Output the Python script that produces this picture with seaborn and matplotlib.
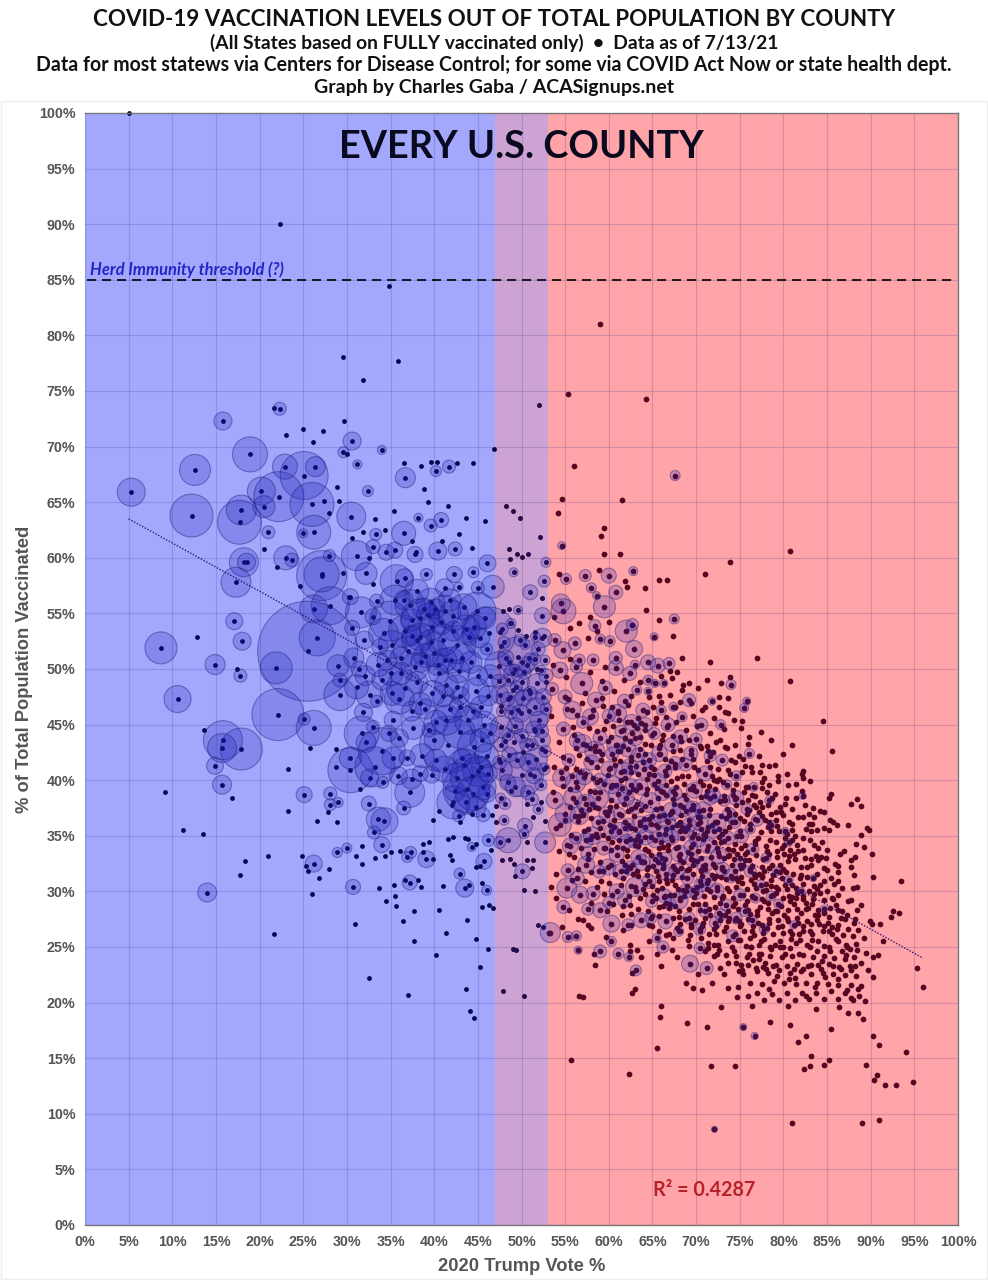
import matplotlib
matplotlib.use('Agg')
import matplotlib.pyplot as plt
from matplotlib.patches import Rectangle
import seaborn as sns
import pandas as pd
import numpy as np

# Every U.S. county: 2020 Trump vote % vs. % fully vaccinated
# bubbles are (vote, vaccinated, bubble diameter scale of the county population)
blue_big = [
    (5.3,65.9,28),(15.8,72.3,18),(12.6,67.9,31),(18.9,69.3,35),(12.2,63.8,43),(22.3,73.4,13),(22.9,68.2,25),
    (25.1,67.4,48),(26.4,68.2,20),(20.2,66,28),(22.2,65.5,50),(17.9,64.3,30),(17.7,63.2,44),(20.5,64.6,22),
    (26,64.8,44),(30.6,70.5,18),(29.6,69.5,11),(30.5,63.7,29),(26.2,62.3,34),(25,62.2,9),(21,62.3,13),
    (18.2,59.6,29),(18.5,59.6,18),(17.3,57.8,30),(23,60,24),(23.7,59.8,14),(27.1,58.4,50),(27.1,58.5,35),
    (31.1,60.2,30),(28,60.2,12),(26.2,55.4,28),(28.1,55.7,38),(31.6,55.1,31),(26.6,52.8,36),(25.5,51.6,100),
    (21.9,50.1,32),(22.1,45.9,52),(26.2,44.7,35),(25.1,45.5,12),(10.6,47.3,27),(14.9,50.4,20),(17.8,49.4,13),
    (15.8,43.6,39),(15.7,42.9,29),(17.9,42.8,42),(14.9,41.3,17),(15.7,39.6,19),(14,29.9,19),(25.1,38.7,16),
    (28.1,38.8,13),(28.1,37.8,12),(29,38,10),(32.5,37.9,15),(33.1,35.3,13),(33.6,36.5,24),(26.2,32.5,17),
    (30.7,30.4,15),(28.9,33.5,10),(30,33.9,10),(30.4,40.9,45),(30.4,42,22),(31.7,44.2,35),(33.2,41.2,40),
    (29.2,47.7,32),(29,50.3,22),(29.2,49,14),(8.7,51.9,32),(17.1,54.3,17),(18,52.5,18),(30.6,53.7,15),
    (36.7,67.2,20),(41.7,68.2,13),(40.2,67.8,11),(32.4,66,11),(34,69.7,9),(31.2,68.4,9),
]
blue_mid = [
    (36.5,62.2,24),(40.8,63.4,15),(39.6,62.9,13),(38.2,63.6,9),(46.1,59.5,17),(39.1,58.5,12),(42.3,58.5,16),
    (44.5,58.7,11),(45,57.3,13),(46.7,57.4,23),(41.2,57.3,18),(42.8,57.4,9),(35.7,57.9,33),(35.5,56.2,30),
    (36.5,56.2,19),(41.2,55.2,32),(39.3,54.9,23),(34.9,54.3,40),(34.2,53.2,30),(44.9,55.2,38),(46.3,53.2,53),
    (38.4,52.9,28),(44,52.9,17),(45.2,52.8,20),(46,51.8,12),(34.6,50.8,20),(36.6,48.3,36),(38.5,50.6,20),
    (40.5,49.6,20),(42.8,49.8,23),(44.8,48,27),(41.4,48.6,23),(39,46.4,20),(41.8,46.4,27),(45.7,45,27),
    (32.6,47.7,27),(36,47.3,30),(38,48.8,22),(40,51.4,27),(42.2,53.4,20),(37,51.6,30),(35,49.6,24),
    (33.8,52,16),(37.4,54.4,22),(39.6,52.4,25),(41.2,50.8,24),(43,47.6,18),(39.4,44.5,14),(44.4,46.2,16),
    (41.6,43.2,57),(43.7,39.2,47),(42.2,38,33),(44.3,40.4,43),(45.4,41.2,20),(37.2,38.9,30),(37.6,44.7,23),
    (34,42.6,47),(35.3,42,22),(34.3,36.3,27),(34,34.2,16),(37.4,40.1,20),(39.7,40.5,17),(43.2,42,18),
    (40,43.6,20),(45.5,43.6,24),(46,38.8,18),(42.8,36.8,12),(36.9,33.1,11),(37.3,33.5,12),(39.1,32.9,17),
    (46.2,34.6,12),(42.9,31.6,11),(45.7,32.7,16),(37.2,30.8,15),(43.5,30.3,18),(46,30.1,10),(44.3,34,9),
    (34.1,39.8,12),(36.5,37.5,14),(38.6,42.2,24),(35.3,45.4,18),(33,44.8,13),(32.1,49.4,20),(33.4,47.1,12),
    (32,52.6,18),(31.1,48.4,24),(33,54.7,16),(32.2,58.6,22),(33.4,56.1,14),(34.5,60.5,16),(33.3,62.1,12),
]
blue_core = [
    (38.4,54.6,38),(37.2,55.8,30),(39.6,56,28),(36.6,53.4,32),(38,52.6,30),(39.8,53.8,26),(41,52.6,32),
    (42.6,52.2,38),(43.6,53.6,28),(42.2,54.8,30),(40.8,54.2,24),(43.2,51,28),(41.9,50.8,26),(38,57,24),
    (36.6,58.2,18),(39,51.2,24),(37.8,50.2,28),(40.4,50.4,22),(36.2,51,22),(35.2,52.2,28),(37.4,53,20),
    (38.8,55.4,22),(40.1,55.4,20),(41.8,56.2,22),(43.4,55.6,26),(44.6,53.8,24),(45.8,54.6,22),(44.2,50.6,22),
    (42.6,48.4,24),(41,47.6,22),(39.8,47.8,26),(38.4,46.9,22),(37.4,46.2,20),(35.2,47.8,24),(34,49,20),
    (33.6,50.4,24),(36.2,49.6,22),(43.9,45.4,28),(42.9,44.3,32),(44.6,43,34),(43.4,41.4,32),(45,40.8,30),
    (42.6,40.2,30),(44.4,38.8,34),(45.6,39.4,26),(41.2,41,26),(40.2,41.8,22),(46,42.2,24),(46.4,44.2,20),
    (41.4,45.4,30),(40.2,45.2,24),(42.9,46.6,20),(45.4,46.6,22),(46.2,47.6,20),(46.4,49.4,22),(45,49.4,20),
    (43.6,38,24),(42.4,39,20),(46.2,40.6,18),(44.8,37.6,20),(45.6,36.9,14),(38.4,40.6,16),(36,43.8,18),
    (36.9,42,16),(34.8,44.2,16),(32.2,43.4,20),(32.6,40.2,18),(35.9,40.4,18),(31.9,46.1,18),(30.8,51,20),
    (31.4,50,16),(30.4,56.5,16),(33,61,14),(35.5,60.7,16),(37.8,60.3,16),(40.4,60.6,18),(42.4,60.8,14),
]
mid_big = [
    (49.6,51.1,40),(47.4,50.3,28),(52.4,52.8,19),(50.9,46.2,43),(50,40.5,44),(47.8,40.9,20),(48.7,47.5,28),
    (47.7,44.8,22),(49.1,43.4,24),(51.7,41.9,22),(47.5,47.7,18),(48.8,54.1,10),(49.6,55.3,9),(52.4,54.8,16),
    (51,56.9,15),(49.1,58.7,9),(48.5,34.6,25),(47.5,34.4,12),(50.4,35.9,15),(48,36.4,10),(50.1,31.8,15),
    (52.7,34.4,21),(53.3,26.3,20),(50.3,35.2,10),(51.8,48.7,20),(50.3,49.7,14),(48.4,49,12),(52,45.4,18),
    (49.3,44.9,16),(50.6,43.2,14),(48.6,42.3,15),(52.2,39.6,12),(51.2,38.3,13),(47.6,38.4,10),(51.5,50.9,12),
    (52.7,50.8,10),(49.8,52.6,12),(51.6,52.9,10),(50.4,52.2,10),(48.8,46.1,13),(50.2,47.4,16),(52.5,47.5,16),
    (48,52.4,12),(47.4,48.9,14),(49.4,48.4,12),(51,47.8,14),(52.8,46.4,12),(51.4,44.6,16),(50,44,14),
    (47.6,43.2,14),(48.4,44.1,12),(52.4,43.6,16),(51.2,43.2,12),(49.5,41.8,16),(48.4,39.8,16),(51.4,40.4,16),
    (52.6,41,12),(47.7,46.2,10),(49.2,50,10),(50.9,51,10),(52.2,49.9,10),(52.6,57.9,12),(52.8,59.6,10),
    (48.2,51,16),(49,49.6,18),(50.6,50.4,16),(51.9,51.8,14),(52.8,49.4,14),(47.8,53.6,12),(50,48.8,16),
    (51.6,46.6,18),(49.9,46,18),(48.4,47.3,14),(52.3,44.4,14),(47.5,41.6,14),(50.8,41.6,18),(49.3,39.4,20),
    (48.1,37.9,12),(52.7,42.6,12),(50.7,38.9,14),(51.9,37.4,10),
]
red_big = [
    (54.6,61.1,8),(62.8,58.8,9),(57.3,58.4,12),(60,58.4,15),(55.1,58.1,11),(58,57.3,10),(60.8,56.9,14),
    (58.6,56.6,8),(59.5,55.6,22),(54.8,55.2,25),(54.5,55.9,19),(67.5,54.5,10),(58.4,53.9,12),(62,53.4,22),
    (62.7,54,12),(65.2,52.9,8),(59,52.7,10),(60.1,52.5,11),(62.9,51.8,17),(54.7,51.7,17),(56.1,52.3,13),
    (53.8,52.6,13),(56.6,50.8,12),(60.8,51,13),(64.5,50.6,15),(65.6,50.3,15),(66.9,50.5,12),(63,50.4,9),
    (56.9,48.7,22),(58.2,50.8,12),(56.3,50.2,12),(62.4,49.6,14),(60.8,50.1,15),(74,48.6,10),(69.2,47.2,13),
    (71.8,47.1,8),(75.8,47.1,8),(75.5,46.5,9),(64.5,49,10),(65.3,48.7,8),(66.3,48.7,8),(64.5,48,8),
    (70.6,45,13),(72.8,45,10),(76.1,42.4,10),(70,43.7,12),(68.4,45.7,10),(66,46.3,10),(63.9,46.3,14),
    (61.8,47.1,14),(67.6,67.4,10),(53.5,48.2,13),(55,47.5,14),(58.5,47.2,16),(60,45.8,13),(57,45.2,12),
    (54.8,44.6,14),(56.4,43.6,16),(59,43.8,14),(61.4,44.4,12),(63,43.8,16),(65.2,44.2,12),(67.2,43.2,14),
    (60.4,42.4,13),(58,41.6,15),(55.4,41.8,13),(62.4,41.2,16),(64.6,41.8,15),(66.4,40.8,14),(68.8,41.4,13),
    (71,40.6,15),(73,41.8,12),(53.8,38.2,17),(54.4,36,23),(57.4,37.9,19),(55.9,38.4,19),(61.1,38.8,20),
    (64.7,38,20),(68.5,37.6,20),(63.6,36,17),(65.3,34.6,15),(68.1,33.4,17),(70.8,37.3,17),(60.3,35.4,15),
    (57.4,34.6,15),(55.3,31.9,13),(57.4,32.4,17),(60.9,33.3,15),(63.4,33.1,15),(63,30.4,19),(60.9,30,15),
    (55.2,30.3,20),(56.7,29.7,17),(54.8,28.6,13),(59,28.3,15),(60.3,27.1,17),(63.7,27.4,15),(66.5,27.3,15),
    (68.1,29.2,17),(64.9,29.1,12),(69.3,23.5,17),(61.1,24.4,11),(59,24.6,13),(66.2,25,12),(70.4,24.9,11),
    (71.2,23.1,13),(55.3,25.9,11),(56.3,26,10),(56.5,24.7,8),(60.3,25.5,10),(62.3,24.1,9),(63.1,22.9,11),
    (65.5,25.8,9),(72.4,36.2,18),(74.6,38.4,15),(70.2,34.8,18),(72.6,33.2,16),(75.2,35,14),(77,36.4,12),
    (74,31.4,14),(71.4,31,15),(69,31.2,13),(66.6,31.6,14),(78,33,10),(76.2,31.8,12),(73.4,28.8,12),
    (75.6,28.2,10),(71,28.2,12),(78.6,29.6,10),(80.6,31,9),(77.8,26.6,10),(74.2,26,12),(81.2,27,8),
    (59,40,14),(61.2,37,12),(66.8,36.2,15),(58.8,36.2,13),(56.2,34.8,12),(62.6,39.6,12),(75.4,17.8,7),
    (76.7,17,7),(72.1,8.6,6),(78.4,38.2,9),(82.2,38.6,7),(80.6,34.4,8),(83.4,31.2,7),(84.6,28.4,7),
    (61.7,40.8,18),(63.4,42.3,14),(60,41,16),(57.2,40.3,16),(65.6,39.9,16),(67.6,38.8,14),(69.8,39.1,16),
    (72,38.6,14),(73.8,36.9,14),(63,37.6,15),(65.8,36.8,14),(62,34.5,14),(64.2,34.9,16),(67.1,34.9,16),
    (69.2,36,14),(71.4,34.1,16),(73.6,34.8,14),(76.5,33.8,12),(66.4,32.9,14),(69.6,32.8,14),(62.4,32.1,14),
    (58.9,31.8,13),(59.4,33.9,14),(64.6,30.9,14),(72.4,30.1,14),(70,29.9,14),(75,29.7,12),(67,28.9,12),
    (69.2,27.6,12),(72.2,27.2,12),(76.8,29.4,10),(79.2,31.8,9),(73.5,39.6,10),(75.8,37.4,11),(62.2,36,13),
]
red_big_2 = [
    (54.4,49.9,16),(55.8,46.3,18),(57.9,45.7,16),(59.6,48.3,14),(61,46,18),(62.6,45.2,16),(64.2,45,14),
    (66.8,45,14),(68.2,43.9,14),(57,43.3,18),(58.4,42.6,20),(60.8,43.2,18),(62.2,42.8,16),(64,41,18),
    (65.8,42.4,16),(67.6,41.5,14),(69.4,42.4,14),(71.6,42.2,12),(54.6,40.2,18),(56.2,39.8,20),(58.8,38.4,20),
    (60.4,39.6,18),(62,38.4,16),(63.6,39.4,16),(66.2,38.9,16),(67.2,37.2,18),(69.6,37.4,16),(71.6,38.4,14),
    (73.2,38.2,12),(55,37,20),(56.6,36.8,18),(58.1,35,18),(59.8,36.9,16),(61.2,35.4,18),(63,34.6,16),
    (64.8,36.1,18),(66.4,35.2,16),(68.2,35.4,18),(70.4,36.2,16),(72,35.4,14),(74.4,36.2,12),(76.2,35.6,10),
    (55.6,34.1,16),(57.6,33.4,14),(59.9,32.2,16),(61.4,31.8,16),(63.8,32.6,16),(65.6,32.6,16),(67.8,31.8,16),
    (69.4,34,14),(71,32.4,16),(73,32,14),(75,32.4,12),(77.4,30.6,10),(56.4,31.2,14),(58.2,29.8,14),
    (60,29,12),(61.8,29.2,14),(64.8,27.6,12),(66.4,29.6,14),(68.8,30,14),(70.6,30.6,14),(72.8,27.9,12),
    (74.6,27.6,12),(76.4,27.4,10),(57.6,28.4,12),(62.2,27,12),(68,26.4,10),(70.4,26.6,12),(79.4,28.9,9),
    (82,30,8),(78.6,36,9),(80.2,35.4,8),(74.6,40.4,10),(76.6,39.4,9),(67.4,46.6,9),(63.2,48.1,10),
]

# dots only, the bubble is too small to matter
blue_dots = [
    (5,100),(22.3,90),(34.8,84.4),(29.6,78.1),(35.9,77.7),(31.8,76),(21.6,73.5),(29.7,72.3),(23,71),(25,71.6),
    (46.8,69.8),(44.5,68.5),(42.6,68.5),(39.6,68.6),(40.3,68.6),(38.5,68.3),(36.5,68.5),(30,69.3),(12.8,52.9),
    (9.2,38.95),(11.2,35.5),(13.5,35.2),(13.6,44.5),(16.8,38.4),(18.3,32.7),(17.7,31.5),(21,33.2),(23.2,41),
    (23.2,37.2),(21.7,26.2),(25.8,42.9),(28.7,42.8),(24.8,33.2),(25.3,32.3),(25.5,31.8),(26.8,31.2),(27.9,32),
    (26,29.8),(26.6,36.3),(27.8,37.1),(28.9,36.2),(31,33.2),(31.7,34.1),(31.7,32.5),(30.9,27.1),(28.7,41.2),
    (31.5,39.2),(17.4,50),(38.7,34.3),(39.4,34.4),(38.7,33.5),(41.8,33.3),(42,32.8),(41.6,34.7),(42.1,34.9),
    (43.5,34.8),(43.9,34.7),(44.8,34.3),(46.5,33.7),(36.1,33.6),(39.9,32.9),(44.8,32.2),(45.2,32.3),(38.2,31),
    (38.5,30.4),(41,30.5),(44,30.6),(45.5,30.8),(34.5,29.1),(35.5,29.6),(35.6,28.7),(37.7,28.2),(40.6,28.3),
    (36.4,27.3),(43.7,27.4),(45.5,28.6),(46.3,28.8),(46.7,28.5),(41.3,26.3),(37.7,25.5),(44.8,25.7),(46.2,24.8),
    (40.2,24.3),(45.2,23.2),(32.5,22.2),(37,20.7),(43.6,21.2),(44.1,19.2),(44.6,18.6),(33.2,33),(34.4,33.2),
    (35,33.5),(36.6,31),(33.7,30.3),(35.4,30.6),(44.3,37),(43,36.2),(39.9,36.4),(42,37.8),(40.5,37.2),(46.6,36.9),
    (38.8,66.2),(39.3,65),(41.6,64.7),(42.8,62.1),(40.9,61.5),(43.6,63.6),(44.3,60.9),(45.8,63.3),(37.4,61.5),
    (37.9,60.5),(35.4,64.2),(34.4,62.5),(33.2,63.5),(31.8,62.3),(30.6,61.8),(27.4,65.1),(28.9,66.4),(27.3,71.4),
    (26.1,70.4),(29.1,65.1),(28,64),(29.5,58.6),(24.6,57.5),(22,59.2),(20.5,60.8),(30.2,56.5),(32.5,60),(33,57.6),
]
mid_dots = [
    (47.1,37.7),(47.1,36.2),(52.7,36.3),(51.3,36.7),(50.6,34.4),(47.8,32.8),(48.7,32.9),(49.1,32.5),(50.6,32.8),
    (51.3,32.8),(49.2,31.4),(51.2,32.1),(50.3,30.1),(51.5,30),(51.9,27),(52.5,26.8),(49,24.8),(48.7,59.9),(48.6,55.4),
    (48.7,54.1),(52.4,56.4),(52,73.7),(47.9,21),(49.4,24.7),(50.3,20.6),(48.6,60.8),(49.5,60.3),(50,60.1),(50.7,60.3),
    (48.2,64.7),(49,64.2),(49.8,63.6),(52.1,61.9),(51.6,53.3),(50.5,53),(49.6,53.5),(52.6,53),(47.6,52.1),(47.9,55.2),
    (47.5,53.3),(48.6,50.6),(50,50.6),(51.8,50),(52.8,48.8),(49,48.1),(50.9,48.1),(47.6,46.7),(49.6,46.3),(51.6,44.4),
    (48.1,43.5),(50.2,42.5),(52.4,42.8),(47.4,41.9),(51,40.6),(52.8,41.2),(48.8,39),(50.6,37.9),(52.2,38),
]
red_upper = [
    (59,81),(64.3,74.3),(55.3,74.7),(56,68.3),(61.5,65.2),(54.6,65.3),(54.2,64),(59.4,62.7),(59.1,62),(80.7,60.6),
    (59.5,60.3),(61.3,60.3),(73.9,59.6),(71,58.5),(58.9,58.9),(54.3,58.5),(61.9,57.9),(62.1,57.4),(65.8,58),(66.7,58),
    (64.1,57.3),(64.3,55.3),(65.8,54.4),(57.8,54.7),(60,54.2),(53.7,54.7),(55.5,53.7),(56.6,54.1),(58.7,53.4),(67.3,53),
    (57.6,52.8),(68.4,51),(71.6,50.6),(77,51),(80.8,48.9),(73.9,49.3),(71.2,49),(72.8,48.7),(69.2,48.7),(68.5,48.6),
    (70.2,48.3),(68.4,48.1),(72.6,47.5),(72.6,46.6),(73.3,46.1),(73.7,46),(70.7,46.3),(67,49.8),(67.8,49.7),(67.2,49.2),
    (64.6,47.5),(65.8,47.6),(67,47.7),(66,47),(75.3,45.3),(75.1,44.7),(76.1,43.9),(76,43.3),(74.4,43.2),(73.5,42.9),
    (71.6,44.2),(84.5,45.3),(85.6,42.6),(81,43.2),(79,41.4),(77.6,41.4),(79.4,40.4),(80.4,40.6),(82.1,40.6),(82.3,40.8),
    (82.2,40.2),(83,39.9),(81.5,39.7),(82.1,39),(85.5,38.8),(85.2,38.4),(88.4,38.3),(87.7,37.9),(88.9,37.7),(83.4,37.5),
    (84.2,37.2),(84.6,37.1),(82.9,37),(83.5,36.7),(85.3,36.4),(85.7,36.2),(86.1,36),(82.9,36.1),(83.3,36.1),(87.4,36),
    (89.6,35.7),(89.8,35.5),(83.2,35.4),(83.9,35.5),(84.6,35.7),(85.2,35.5),(88.9,35.1),(82.3,36.7),(81,36.1),(81,35.5),
    (82.3,34.8),(83,34.6),(81,34.6),(88.3,34.3),(89.2,34),(85,33.7),(84,33.9),(86.5,33.4),(86.9,33.6),(90.1,33.4),
    (84.9,33),(88.2,33.1),(85.9,32.5),(86.3,32.3),(87.7,32.8),(87.7,32.2),(86.3,31.7),(88.1,31.5),(90.3,31.3),(93.5,30.9),
    (88,30.3),(88.4,30.4),(87.8,29.2),(87.4,29.1),(88.9,28.8),(88.4,28.3),(88.2,27.5),(93.2,28.1),(92.6,28.2),(92.3,27.7),
    (90.1,27.1),(91.1,27.1),(89.9,27.3),(91.4,25.5),(90.8,24.3),(90.3,24.1),(89.5,24.5),(88.9,23.6),(89.7,22.9),(90.3,22.3),
    (95.3,23.1),(96,21.4),(94,15.6),(94.8,12.9),(92.9,12.6),(91.6,12.6),(90.7,13.5),(90.4,13),(89.5,14.4),(90.3,17),
    (90.9,16.2),(91,9.4),(89,9.2),(81,9.2),(62.3,13.6),(55.7,14.8),(65.5,15.9),(71.7,14.3),(74.5,14.3),(82.4,14),(83,14.3),
    (84.6,14.4),(85.2,14.8),(83.2,15.2),(81.7,16.5),(82.6,17),(80.7,18),(85.4,17.6),(87.4,19.1),(88.5,19.1),(89.1,18.5),
    (86.4,19.6),(83.7,19.4),(80.5,19.7),(78.5,18.3),(76.4,19.7),(74.7,20.5),(72.8,19.6),(71.2,17.8),(69,18.2),(66,19.7),
    (65.9,18.7),(68.8,21.8),(69.6,21.3),(70.7,21.1),(63,21.2),(62.7,20.9),(56.6,20.6),(57.1,20.5),
]
red_45 = [
    (53.4,45.8),(54.3,43.4),(55.2,46.4),(56,44.1),(56.9,46.9),(57.4,43.2),(58.1,45.8),(58.7,44.4),(59.3,46.7),(59.9,43.5),
    (60.5,44.9),(61.1,46.2),(61.6,43.1),(62.1,45.2),(62.7,44.2),(63.4,45.6),(63.6,42.8),(64.2,44.5),(64.8,43.2),(65.4,45.6),
    (66.1,43.6),(66.7,44.8),(67.3,42.6),(67.7,45.2),(68.3,43.5),(68.9,44.5),(69.4,42.7),(70.1,44.9),(70.6,42.9),(71.3,43.1),
    (71.9,42.5),(72.7,43.6),(73.2,44.6),(74,41.8),(74.9,42.2),(75.6,41.3),(76.4,40.7),(77.2,42.2),(77.8,40.2),(78.4,39.6),
    (53.7,41.2),(54.8,42.1),(55.8,40.4),(56.6,42.3),(57.3,40.6),(57.9,42.9),(58.6,41.2),(59.2,42.4),(59.9,40.5),(60.7,41.4),
    (61.3,42.6),(61.9,40.2),(62.6,42.1),(63.3,40.6),(63.9,41.6),(64.4,40.1),(65.2,41),(65.9,42.4),(66.5,40.5),(67.1,41.7),
    (67.8,40.2),(68.4,41.9),(69.1,40.4),(69.8,41.2),(70.4,39.9),(71.2,41.7),(71.8,40.4),(72.5,41),(73.1,39.8),(73.9,40.6),
    (74.6,39.7),(75.3,40.7),(76,39.4),(76.7,38.6),(77.5,39.3),(78.2,37.8),(79,38.8),(79.6,37.6),(80.3,38.4),(81,37.4),
    (68.2,47),(69.6,45.8),(71,46.6),(72,45.6),(74.3,45.4),(77.4,44.3),(78.6,43.6),(80,42.4),(73.6,47.4),(62.6,47.6),
    (60.6,48),(59.2,48.9),(57.8,49.7),(55.1,49.3),(53.6,50.4),(55.6,50.9),(59.6,50.2),(61.7,49),(63.6,48.8),(66,49.4),
]
red_40 = [
    (53.6,38.9),(54.7,39.5),(55.5,37.6),(56.4,39.4),(57,36.9),(57.8,39),(58.4,37.6),(59,38.9),(59.6,37.1),(60.2,38.2),
    (60.8,39.6),(61.4,36.9),(62,38.4),(62.5,37.4),(63.1,39.1),(63.7,37.3),(64.3,38.8),(64.9,36.8),(65.5,39.3),(66,37.5),
    (66.6,38.7),(67.2,37.1),(67.7,39.4),(68.3,36.9),(68.9,38.3),(69.4,37.4),(70,39),(70.5,36.7),(71.1,38.6),(71.6,37.4),
    (72.2,39.2),(72.8,36.8),(73.3,38.2),(73.8,37.1),(74.4,37),(75,36.6),(75.5,38.9),(76.1,37.3),(76.7,36.5),(77.3,38),
    (77.9,36.4),(78.6,37),(79.3,35.9),(80,36.9),(80.4,35.2),(54,35.7),(55,36.4),(55.7,35.1),(56.5,36.3),(57.2,35.4),
    (58,36.6),(58.7,34.9),(59.3,36.3),(59.9,34.8),(60.6,36.4),(61.2,35.3),(61.8,36.2),(62.4,34.7),(63,35.6),(63.6,34.5),
    (64.2,35.8),(64.8,34.9),(65.4,36),(66,34.4),(66.6,35.6),(67.2,34.6),(67.8,36),(68.4,34.8),(69,35.7),(69.6,34.3),
    (70.2,36.1),(70.8,34.7),(71.4,35.8),(72,34.4),(72.6,35.6),(73.2,34.5),(73.8,35.8),(74.4,34.3),(75,35.4),(75.6,34.2),
    (76.2,35.6),(76.8,34.5),(77.4,35.3),(78,34.1),(78.6,35.4),(79.2,34.4),(79.8,33.9),(80.2,34.8),(81.7,33.6),(82.5,33),
    (65.2,39.7),(67.1,39.9),(69.6,39.5),(72.1,40),(58.2,40.2),(56.2,41),(54.5,40.7),(61.4,40.7),(74.5,38.3),(76.9,37.6),
    (57.6,35.6),(60.1,37.6),(62.9,36.8),(65.8,35.2),(68.1,37.8),(70.9,35.2),(73.4,36.6),(75.8,37),(78.2,35.8),(71.5,39.5),
    (83.2,32.4),(84,32.8),(82,32.2),(81.3,32.9),(80.6,33.2),(83.8,31.6),(85,31.9),(84.6,30.9),(85.8,30.7),(86.7,30.3),
]
red_30 = [
    (54.3,33.6),(55.2,34.2),(56,33.1),(56.8,33.9),(57.6,32.9),(58.3,33.8),(59,32.6),(59.6,33.9),(60.3,32.4),(60.9,34),
    (61.5,32.7),(62.1,33.7),(62.7,32.4),(63.4,34.1),(64,32.6),(64.5,33.6),(65.1,32.3),(65.7,33.4),(66.2,32.5),(66.8,33.7),
    (67.4,32.3),(67.9,34),(68.5,32.6),(69.1,33.5),(69.7,32.4),(70.2,33.6),(70.8,32.3),(71.3,33.7),(71.9,32.5),(72.5,33.5),
    (73,32.2),(73.6,33.8),(74.1,32.4),(74.7,33.4),(75.2,32.1),(75.8,33.5),(76.4,32.3),(76.9,33.3),(77.5,32.2),(78.1,33.6),
    (78.7,32.4),(79.3,33.1),(79.9,32),(80.5,32.7),(81.1,31.6),(82,31.5),(82.7,32.2),(54,31.6),(55.8,31),(56.5,32),
    (57.3,30.9),(58,31.7),(58.7,30.4),(59.3,31.8),(60,30.8),(60.7,31.6),(61.4,30.6),(62,31.8),(62.6,30.5),(63.3,31.4),
    (63.9,30.2),(64.4,31.5),(65,30.5),(65.6,31.4),(66.1,30.3),(66.7,30.8),(67.3,31.5),(67.9,30.2),(68.4,31.3),(69,30.5),
    (69.6,31.6),(70.1,30.4),(70.7,31.4),(71.3,30.2),(71.8,31.5),(72.4,30.4),(72.9,31.3),(73.5,30.3),(74.1,31.2),(74.6,30.4),
    (75.2,31.3),(75.8,30.2),(76.3,31),(76.9,30.3),(77.5,31.3),(78,30.1),(78.6,31),(79.2,30.4),(79.8,31.2),(80.4,30.2),
    (81,30.6),(81.6,29.9),(82.3,30.7),(82.9,30),(83.5,30.5),(84.2,29.9),(85,30),(85.6,29.4),(86.3,29.7),(53.4,30.4),
    (68.1,32.8),(70.6,33),(73.2,33),(75.6,32.8),(77.8,31.8),(79.6,31.7),(62.2,32.2),(65.4,31.8),(67.6,30.6),(72.2,32.2),
    (74.4,31.8),(76.6,31.6),(69.4,32.9),(71,32),(66.2,34),(72.9,34.4),(78.4,33.4),(80.1,33.4),(83.9,30.2),(81.9,31.2),
]
red_25 = [
    (54,29.4),(55.4,28.3),(56.5,27.5),(57.1,27.4),(57.6,27),(58,26.7),(58,29),(59.4,29.8),(60.5,28.9),(61.6,28.7),
    (62.4,28.8),(62.6,28),(63.6,29.4),(64.5,28.2),(65.1,29.7),(65.7,28.6),(66.3,29.5),(66.9,28.5),(67.5,29.7),(68,28.2),
    (68.6,29.6),(69.2,28.4),(69.8,29.5),(70.4,28.3),(70.9,29.6),(71.5,28.4),(72,29.5),(72.6,28.1),(73.1,29.6),(73.7,28.2),
    (74.2,29.4),(74.8,28.4),(75.4,29.7),(75.9,28.3),(76.5,29.5),(77,28.2),(77.6,29.3),(78.2,28.4),(78.8,29.7),(79.3,28.2),
    (79.9,29.4),(80.5,28.3),(81,29.5),(81.6,28.4),(82.2,29.3),(82.8,28.5),(83.4,29.3),(84,28.3),(84.7,29.2),(85.3,28.5),
    (86,28.8),(86.7,28.2),(87,27.5),(61.6,26.5),(62.5,27),(64.6,25.5),(65,26.9),(65.8,27.8),(66.9,26.2),(67.4,27.6),
    (68.1,26.4),(68.7,27.5),(69.3,26.1),(69.9,27.4),(70.4,26.4),(71,27.6),(71.5,26.2),(72.3,26.2),(72.7,27.4),(73.2,26.4),
    (73.8,27.6),(74.4,26.2),(74.9,27.3),(75.5,26.4),(76,27.5),(76.6,26.1),(77.1,27.2),(77.7,26.3),(78.3,27.5),(78.8,26.2),
    (79.4,27.4),(79.9,26.3),(80.5,27.3),(81,26.2),(81.6,27.6),(82.2,26.4),(82.7,27.3),(83.3,26.2),(83.9,27.4),(84.5,26.4),
    (85.1,27.2),(85.6,26.2),(86.2,27),(86.8,26.1),(87.4,26.6),(88,26),(88.6,26.5),(89.2,25.8),(71.4,25.4),(72.5,25.2),
    (74.1,25),(75,25.6),(76.3,25),(77.4,25.5),(78.5,25),(79.6,25.5),(80.7,24.9),(81.9,25.6),(83,25),(84,25.5),
    (85.2,25),(86.3,25.5),(87.3,25),(88.3,25.3),(58.4,23.4),(58.3,24.4),(59.7,25.9),(62.4,25.2),(62.4,24.6),(63.2,24.7),
    (63.7,24.1),(65.5,24.4),(67.2,24.7),(67.8,24.1),(66,23.3),(62.7,22.7),(70.2,22.6),(72.7,23.1),(73.2,22.6),(74.9,22.8),
    (73.7,23.6),(75.8,24.1),(76.3,25),(74.6,24.2),(72,24.2),(71,24.6),(53.2,26.3),(54.6,26.8),
]
red_20 = [
    (76.5,23.8),(77.2,24.4),(77.9,23.6),(78.5,24.2),(79.1,23.4),(79.8,24.1),(80.4,23.3),(81,24.2),(81.6,23.5),(82.2,24.3),
    (82.8,23.3),(83.4,24.1),(84,23.4),(84.6,24.2),(85.2,23.5),(85.8,24),(86.4,23.2),(87,23.9),(87.6,23.3),(88.1,24.1),
    (75.4,22.6),(76.2,21.8),(77,22.8),(77.6,21.7),(78.2,22.7),(78.9,21.9),(79.5,22.9),(80.1,21.8),(80.7,22.7),(81.4,21.7),
    (82,22.8),(82.6,21.8),(83.2,22.6),(83.9,21.8),(84.5,22.7),(85.1,21.7),(85.7,22.6),(86.3,21.6),(87,22.5),(87.7,21.6),
    (88.3,22.4),(88.9,21.5),(71.8,21.8),(73.6,21.3),(74.8,21.4),(75.9,20.6),(77,20.9),(77.8,20.2),(78.7,20.8),(79.5,20.2),
    (80.4,20.9),(81.3,20.2),(82.1,20.9),(82.9,20.3),(83.7,20.9),(84.6,20.3),(85.4,21),(86.2,20.3),(87.1,20.9),(88,20.2),
    (88.7,20.6),(89.4,20.1),(72.4,24.4),(76.9,23.1),(81.2,23),(84.3,23),(75.1,23.4),(78,23),(86.6,23),(80,25),
]
# second pass over the thick part of the cloud, column by column
red_col_a = [
    (55.3,47.3),(56.4,45.9),(55.9,44.8),(56.2,42.9),(55.1,41.1),(56.7,40.7),(55.6,39.2),(56.8,37.3),(56.1,36.8),(55.4,33.4),
    (57.3,47.8),(58.2,46.3),(57.7,44.7),(58.4,43.1),(57.5,41.9),(58.6,39.8),(57.2,38.4),(58.1,37.9),(57.9,34.7),(58.5,35.2),
    (59.2,47.4),(60.4,46.6),(59.7,45.3),(60.2,43.9),(59.1,41.8),(60.6,41.9),(59.4,39.7),(60.3,39.4),(59.8,36.9),(60.6,35.8),
    (59.3,35.1),(60.2,33.7),(59.1,30.9),(60.4,29.7),(59.8,28.2),(61.2,45.4),(62.2,46.8),(61.6,44.5),(62.4,43.5),(61.3,41.7),
    (62.6,40.7),(61.5,39.3),(62.3,38.9),(61.7,37.9),(62.6,35.7),(61.2,34.6),(62.1,33.2),(61.6,31.2),(62.3,29.6),(61.5,27.9),
    (63.2,44.7),(64.4,46.1),(63.6,43.9),(64.1,42.4),(63.1,41.3),(64.6,40.6),(63.5,39.6),(64.2,37.7),(63.2,37.9),(64.6,36.5),
    (63.3,35),(64.1,33.8),(63.7,32.7),(64.5,32.2),(63.2,31.8),(64.2,29.8),(63.4,28.4),(64.6,27),(65.3,45.1),(66.2,44.1),
    (65.7,42.9),(66.4,41.9),(65.2,40.5),(66.6,39.6),(65.6,38.4),(66.3,36.9),(65.4,37.4),(66.7,36.3),(65.7,33.9),(66.1,33),
    (65.3,32.9),(66.6,31.1),(65.5,30.1),(66.2,28.7),(65.8,26.4),(67.4,44),(68.2,42.7),(67.6,41.2),(68.4,40.4),(67.3,39),
    (68.6,38.7),(67.5,37.9),(68.1,36.2),(67.2,35.8),(68.7,35.4),(67.7,33.9),(68.3,32.1),(67.2,31),(68.5,30.1),(67.6,28.7),
    (68.2,27.1),(67.4,25.8),(69.2,43.6),(70.4,43.1),(69.6,41.9),(70.2,40.9),(69.3,39.2),(70.6,38.5),(69.7,37.8),(70.3,37.2),
    (69.2,36.4),(70.6,35.6),(69.5,34.9),(70.1,32.7),(69.2,32),(70.6,31.8),(69.7,30.1),(70.2,28.9),(69.4,27.1),(70.7,26.9),
    (69.1,25.6),(71.4,42.6),(72.3,43.4),(71.6,41.2),(72.4,39.9),(71.2,39),(72.7,38.1),(71.5,36.9),(72.2,36.2),(71.3,35.4),
    (72.6,34.9),(71.7,33.1),(72.3,31.4),(71.2,30.8),(72.7,29),(71.6,27.9),(72.3,26.9),(71.4,24.9),(72.6,24.7),
]
red_col_b = [
    (73.3,43),(74.4,41.6),(73.6,40.9),(74.2,39.1),(73.2,38.6),(74.6,37.8),(73.5,37.4),(74.1,36.2),(73.3,35.4),(74.7,35),
    (73.7,33.2),(74.3,32.9),(73.2,31.8),(74.6,31.2),(73.8,30),(74.2,28.7),(73.3,27.9),(74.5,27.4),(73.6,25.5),(74.3,24.6),
    (75.4,41.9),(76.3,41.2),(75.7,39.4),(76.4,38.7),(75.3,38),(76.6,37.8),(75.5,36.3),(76.2,36.1),(75.2,33.9),(76.7,34.3),
    (75.6,33.4),(76.1,32.8),(75.3,30.8),(76.6,30.7),(75.8,29.1),(76.2,28),(75.2,27.1),(76.5,26.9),(75.7,25.1),(76.1,24.4),
    (75.3,22.9),(77.3,40.7),(78.4,41.3),(77.6,39.8),(78.1,38.9),(77.2,37.1),(78.7,38.4),(77.5,36.8),(78.3,36.2),(77.1,34.8),
    (78.5,34.6),(77.7,32.9),(78.3,32.1),(77.2,31.6),(78.6,30.5),(77.7,30),(78.2,29),(77.3,28.6),(78.7,28.1),(77.6,27),
    (78.1,26.7),(77.2,25.2),(78.6,24.8),(77.7,23.2),(78.3,21.2),(79.4,39.9),(80.5,39.6),(79.7,37.1),(80.2,37.9),(79.2,36.4),
    (80.6,36.2),(79.5,35.4),(80.1,34.2),(79.3,33.6),(80.7,33.7),(79.6,32.4),(80.3,31.7),(79.2,29.9),(80.6,29.6),(79.7,28.7),
    (80.1,27.9),(79.4,26.8),(80.7,26.4),(79.6,25),(80.2,24.4),(79.3,22.4),(80.6,22.1),(81.4,38.4),(82.5,37.8),(81.7,36.7),
    (81.3,35),(82.6,35.6),(81.6,34.2),(82.2,33.7),(81.2,33.4),(82.7,31.3),(81.5,30.3),(82.2,29.6),(81.2,28.9),(82.6,28.4),
    (81.7,27.2),(82.3,26.9),(81.4,25.4),(82.7,25.2),(81.8,24.4),(82.2,23),(81.3,22.2),(82.6,20.6),(83.5,34.2),(84.4,34.4),
    (83.7,33.2),(84.3,33.1),(83.2,32.9),(84.6,32.1),(83.5,29.8),(84.2,30.6),(83.3,28.9),(84.7,28.1),(83.6,27.9),(84.1,27.1),
    (83.3,25.6),(84.6,25.1),(83.8,24.6),(84.4,23.7),(83.2,23.4),(84.8,22.3),(83.6,21.4),(85.4,31.2),(86.3,30.9),(85.7,29.3),
    (86.2,28.3),(85.2,27.7),(86.6,27.6),(85.6,26.8),(86.1,26.6),(85.3,24.6),(86.7,24.6),(85.7,23.3),(86.2,22.1),(87.3,27.9),
    (88.1,27.2),(87.6,24.8),(87.2,24.3),(88.4,24.7),(87.7,22.9),(88.2,23.3),(87.3,21.1),(88.6,21.2),(87.8,20.4),
]
red_col_c = [
    (61.9,43.8),(60.9,43.2),(62.9,45),(64.9,44.1),(63.7,45.1),(67.6,46.6),(66.6,45.7),(69.4,46.9),(65.1,46.6),(58.9,42.6),
    (60.1,41.1),(61.4,40),(62.8,39.2),(64.4,39.2),(66,39),(67.4,38.3),(68.8,37.2),(70.2,36.7),(71.8,36),(73,35.2),
    (74.2,33.7),(75.4,32.4),(76.8,31.3),(78,30.7),(79.4,30.2),(80.8,29.1),(82,28.1),(83.2,27.1),(84.6,26.9),(86,25.7),
    (87.2,25.2),(67,37),(68.4,35.8),(69.8,35.2),(71,35),(72.4,33.9),(73.8,33.3),(75,33),(76.2,32),(77.6,31.4),
    (78.8,31.5),(80.2,30.6),(81.4,29.4),(82.6,29),(84,27.9),(85.2,26.4),(64,36.5),(65.6,35.8),(66.8,34.2),(68,33.2),
    (69.4,33.4),(70.6,31.9),(72,31.2),(73.4,31.1),(74.8,30.9),(76.4,29.6),(77.8,29.1),(79,28.2),(80.4,27.6),(81.8,26.2),
    (83,26.4),(60.8,37.7),(62.2,37.2),(63.6,36.2),(64.8,33.3),(66.2,32.1),(67.6,32),(69,31.9),(70.4,30.9),(71.6,30),
    (73,29.4),(74.4,29),(75.6,28.8),(77,27.9),(78.4,27.2),(79.8,26.9),(80.9,25.7),(58.4,38.9),(60,37.2),(61.8,35.7),
    (63,34.2),(64.4,32),(65.8,30.9),(67,29.7),(68.2,29.4),(69.6,28.9),(71,28.9),(72.2,28.6),(73.6,27.3),(75,26.9),
    (76.4,26.4),(77.8,25.7),(79,25.2),(57.1,37),(58.8,37.5),(60.1,36),(61.6,33.9),(62.8,31.6),(64.2,30.7),(65.4,29.4),
    (66.6,29),(68,27.7),(69.4,26.8),(70.8,27.2),(72,26.6),(73.4,26.8),(74.8,25.6),(76.2,25.8),(77.4,24.4),(78.8,23.3),
    (56.2,38),(57.7,37.4),(59,35.7),(60.4,34.4),(61.8,32.4),(63.1,30),(65,27.8),(66.5,26.1),(67.8,26.7),(69.2,25.1),
    (70.6,25.8),(72.1,25.2),(73.4,24.3),(74.6,23.6),(76,23.4),(77.2,23.9),(64.8,41.2),(66.8,41.2),(68.6,39.7),(70.8,39.6),
    (72.6,40.1),(74.2,38.7),(76,38.2),(77.6,37.6),(79.2,37.1),(59.4,44.6),(61,42.6),(62.6,41.7),(64.2,43.3),(65.9,43.2),
]

# 2020 vote band where the blue and red shading overlap
blue_end = 47
red_start = 53
herd_level = 85
trend_x = [5, 96]
trend_y = [63.5, 24]
ticks = list(range(0, 105, 5))
tick_labels = [str(t) + '%' for t in ticks]

sns.set_style('white')
plt.rcParams['font.family'] = ['Lato', 'DejaVu Sans']

fig = plt.figure(figsize=(9.88, 12.8), dpi=100)
ax = fig.add_axes([85 / 988, 1 - 1225 / 1280, (958 - 85) / 988, (1225 - 113) / 1280])


def bubbles(rows):
    return pd.DataFrame(rows, columns=['vote', 'vacc', 'pop']).assign(pop=lambda d: d['pop'] ** 2)


def dots(rows):
    return pd.DataFrame(rows, columns=['vote', 'vacc'])


ax.axvspan(0, blue_end, color='#a3a8fd', lw=0, zorder=0)
ax.axvspan(blue_end, red_start, color='#cda3d3', lw=0, zorder=0)
ax.axvspan(red_start, 100, color='#ffa4a8', lw=0, zorder=0)

ax.set_xticks(ticks)
ax.set_yticks(ticks)
ax.grid(True, color='#303090', alpha=0.2, lw=0.8, zorder=1)
ax.set_axisbelow(True)

all_big = pd.concat([bubbles(blue_big), bubbles(blue_mid), bubbles(blue_core), bubbles(mid_big), bubbles(red_big),
                     bubbles(red_big_2)])

# centre dots, colour goes with the shading underneath. they sit under the bubbles so the thick parts mute them
centre = all_big[['vote', 'vacc']]
left = pd.concat([centre[centre.vote < blue_end], dots(blue_dots)])
mid = pd.concat([centre[(centre.vote >= blue_end) & (centre.vote < red_start)], dots(mid_dots)])
right = pd.concat([centre[centre.vote >= red_start], dots(red_upper), dots(red_45), dots(red_40), dots(red_30),
                   dots(red_25), dots(red_20), dots(red_col_a), dots(red_col_b), dots(red_col_c)])
for part, col, size in [(left, '#05054e', 12), (mid, '#260a48', 13), (right, '#560620', 17)]:
    sns.scatterplot(data=part, x='vote', y='vacc', s=size, color=col, linewidth=0, legend=False, ax=ax, zorder=2,
                    clip_on=False)

# bubbles, all in the same see-through blue
sns.scatterplot(data=all_big, x='vote', y='vacc', size='pop', sizes=(0.52, 6220), size_norm=(1, 12000),
                color='#1c1cb0', linewidth=0.8, legend=False, ax=ax, zorder=3, clip_on=False)
ax.collections[-1].set_facecolor((0.11, 0.11, 0.70, 0.22))
ax.collections[-1].set_edgecolor((0.10, 0.10, 0.45, 0.42))

ax.plot(trend_x, trend_y, color='#301870', lw=1, ls=(0, (1, 1.2)), zorder=5)
ax.plot([0.2, 99.7], [herd_level, herd_level], color='black', lw=1.2, ls=(0, (5.5, 3.5)), zorder=5)

ax.set_xlim(0, 100)
ax.set_ylim(0, 100)
ax.set_xticklabels(tick_labels)
ax.set_yticklabels(tick_labels)
for lab in ax.get_xticklabels() + ax.get_yticklabels():
    lab.set_family('Liberation Sans')
    lab.set_weight('bold')
    lab.set_size(10.3)
    lab.set_color('#555555')
ax.tick_params(length=0, pad=7)
ax.set_xlabel('2020 Trump Vote %', family='Liberation Sans', weight='bold', size=13.2, color='#555555', labelpad=7)
ax.set_ylabel('% of Total Population Vaccinated', family='Liberation Sans', weight='bold', size=13.2,
              color='#555555', labelpad=4)
for side, spine in ax.spines.items():
    spine.set_visible(side in ('top', 'bottom', 'right'))
    spine.set_color('#777777')
    spine.set_linewidth(1)

ax.text(0.6, 85.4, 'Herd Immunity threshold (?)', style='italic', weight='bold', size=11.9, color='#2525c4', zorder=6)
ax.text(50.0, 96.95, 'EVERY U.S. COUNTY', ha='center', va='center', weight='bold', size=27.3, color='#0a0a1e', zorder=6)
ax.text(70.95, 3.15, 'R² = 0.4287', ha='center', va='center', weight='bold', size=14.2, color='#b52228', zorder=6)

fig.text(494 / 988, 1 - 19 / 1280, 'COVID-19 VACCINATION LEVELS OUT OF TOTAL POPULATION BY COUNTY', ha='center',
         va='center', weight='bold', size=16.1, color='#111111')
fig.text(494 / 988, 1 - 43 / 1280, '(All States based on FULLY vaccinated only)  •  Data as of 7/13/21', ha='center',
         va='center', weight='bold', size=13.9, color='#111111')
fig.text(494 / 988, 1 - 65 / 1280,
         'Data for most statews via Centers for Disease Control; for some via COVID Act Now or state health dept.',
         ha='center', va='center', weight='bold', size=14.05, color='#111111')
fig.text(494 / 988, 1 - 87 / 1280, 'Graph by Charles Gaba / ACASignups.net', ha='center', va='center', weight='bold',
         size=14, color='#111111')
fig.add_artist(Rectangle((0.001, 0.001), 0.998, 1 - 102 / 1280, transform=fig.transFigure, fill=False,
                         edgecolor='#eeeeee', lw=1))

fig.savefig('out.png', dpi=100)
